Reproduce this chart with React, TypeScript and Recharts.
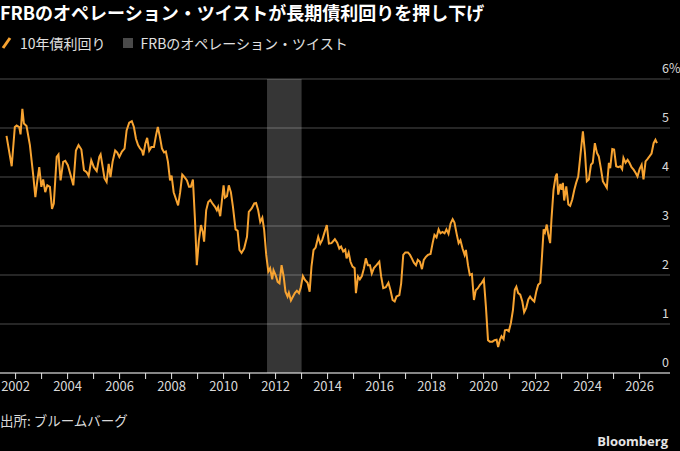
import { LineChart, Line, XAxis, YAxis, CartesianGrid, ReferenceArea } from 'recharts';

// decimal year of each observation
const years = [
  2001.65, 2001.85, 2001.97, 2002.04, 2002.14, 2002.19, 2002.26, 2002.32, 2002.42, 2002.55,
  2002.68, 2002.76, 2002.83, 2002.91, 2002.99, 2003.06, 2003.14, 2003.22, 2003.32, 2003.4,
  2003.47, 2003.58, 2003.65, 2003.73, 2003.83, 2003.91, 2004.01, 2004.12, 2004.22, 2004.32,
  2004.42, 2004.53, 2004.63, 2004.73, 2004.81, 2004.91, 2005.01, 2005.12, 2005.22, 2005.27,
  2005.35, 2005.42, 2005.5, 2005.58, 2005.65, 2005.73, 2005.83, 2005.91, 2005.99, 2006.09,
  2006.19, 2006.27, 2006.37, 2006.47, 2006.55, 2006.63, 2006.71, 2006.78, 2006.86, 2006.91,
  2006.99, 2007.06, 2007.14, 2007.22, 2007.32, 2007.4, 2007.47, 2007.55, 2007.63, 2007.71,
  2007.78, 2007.86, 2007.94, 2008.0, 2008.08, 2008.18, 2008.25, 2008.33, 2008.41, 2008.49,
  2008.59, 2008.67, 2008.74, 2008.82, 2008.9, 2008.97, 2009.05, 2009.13, 2009.2, 2009.25,
  2009.33, 2009.41, 2009.49, 2009.56, 2009.67, 2009.74, 2009.79, 2009.87, 2009.95, 2010.0,
  2010.05, 2010.13, 2010.2, 2010.28, 2010.36, 2010.46, 2010.54, 2010.61, 2010.69, 2010.79,
  2010.9, 2010.97, 2011.08, 2011.18, 2011.25, 2011.33, 2011.41, 2011.49, 2011.56, 2011.64,
  2011.72, 2011.79, 2011.87, 2011.92, 2012.0, 2012.08, 2012.15, 2012.23, 2012.31, 2012.38,
  2012.46, 2012.51, 2012.59, 2012.67, 2012.74, 2012.82, 2012.9, 2012.97, 2013.05, 2013.13,
  2013.23, 2013.31, 2013.38, 2013.46, 2013.54, 2013.64, 2013.72, 2013.79, 2013.87, 2013.97,
  2014.05, 2014.15, 2014.28, 2014.37, 2014.45, 2014.52, 2014.6, 2014.68, 2014.73, 2014.81,
  2014.88, 2014.96, 2015.04, 2015.09, 2015.17, 2015.24, 2015.32, 2015.4, 2015.47, 2015.55,
  2015.63, 2015.7, 2015.78, 2015.88, 2015.99, 2016.06, 2016.14, 2016.24, 2016.34, 2016.42,
  2016.5, 2016.58, 2016.65, 2016.76, 2016.83, 2016.91, 2016.99, 2017.09, 2017.17, 2017.24,
  2017.32, 2017.4, 2017.47, 2017.55, 2017.63, 2017.7, 2017.78, 2017.86, 2017.96, 2018.04,
  2018.11, 2018.19, 2018.27, 2018.34, 2018.42, 2018.5, 2018.57, 2018.65, 2018.73, 2018.81,
  2018.88, 2018.96, 2019.04, 2019.11, 2019.19, 2019.27, 2019.32, 2019.4, 2019.47, 2019.55,
  2019.63, 2019.7, 2019.78, 2019.86, 2019.93, 2020.01, 2020.09, 2020.17, 2020.24, 2020.34,
  2020.42, 2020.5, 2020.56, 2020.63, 2020.69, 2020.77, 2020.82, 2020.9, 2020.97, 2021.05,
  2021.13, 2021.2, 2021.26, 2021.33, 2021.41, 2021.49, 2021.56, 2021.64, 2021.72, 2021.79,
  2021.87, 2021.95, 2022.03, 2022.1, 2022.18, 2022.23, 2022.31, 2022.36, 2022.43, 2022.49,
  2022.56, 2022.61, 2022.69, 2022.77, 2022.82, 2022.87, 2022.95, 2023.0, 2023.05, 2023.1,
  2023.18, 2023.26, 2023.33, 2023.41, 2023.49, 2023.56, 2023.64, 2023.72, 2023.82, 2023.9,
  2023.97, 2024.05, 2024.13, 2024.2, 2024.28, 2024.36, 2024.43, 2024.51, 2024.59, 2024.67,
  2024.74, 2024.82, 2024.87, 2024.95, 2025.02, 2025.1, 2025.18, 2025.26, 2025.33, 2025.38,
  2025.46, 2025.54, 2025.61, 2025.69, 2025.77, 2025.85, 2025.92, 2026.0, 2026.08, 2026.15,
  2026.23, 2026.31, 2026.38, 2026.46, 2026.54, 2026.61, 2026.67,
];

// 10年債利回り (%)
const yields = [
  4.84, 4.22, 5.02, 5.05, 5.02, 4.87, 5.39, 5.09, 5.04, 4.65,
  4.03, 3.59, 3.9, 4.2, 3.8, 3.95, 3.69, 3.83, 3.8, 3.35,
  3.46, 4.41, 4.46, 3.93, 4.31, 4.33, 4.24, 4.03, 3.83, 4.54,
  4.65, 4.56, 4.14, 4.1, 4.02, 4.34, 4.2, 4.12, 4.41, 4.46,
  4.2, 3.97, 3.9, 4.27, 4.0, 4.31, 4.54, 4.5, 4.41, 4.52,
  4.58, 4.95, 5.11, 5.14, 5.02, 4.78, 4.65, 4.59, 4.54, 4.44,
  4.68, 4.8, 4.54, 4.61, 4.61, 4.85, 5.02, 4.82, 4.58, 4.5,
  4.52, 4.31, 3.93, 4.03, 3.69, 3.53, 3.42, 3.69, 4.05, 4.0,
  3.93, 3.8, 3.8, 3.95, 3.12, 2.2, 2.71, 3.02, 2.88, 2.68,
  3.32, 3.49, 3.53, 3.47, 3.39, 3.32, 3.39, 3.2, 3.59, 3.83,
  3.58, 3.61, 3.83, 3.69, 3.39, 2.93, 2.9, 2.51, 2.45, 2.54,
  2.78, 3.29, 3.36, 3.46, 3.47, 3.32, 3.08, 3.17, 2.92, 2.41,
  2.07, 2.14, 1.91, 2.1, 2.0, 1.86, 1.83, 2.2, 1.97, 1.66,
  1.56, 1.64, 1.48, 1.56, 1.63, 1.68, 1.63, 1.75, 1.98, 1.9,
  1.84, 1.66, 2.17, 2.51, 2.56, 2.78, 2.64, 2.71, 2.85, 3.02,
  2.64, 2.65, 2.73, 2.66, 2.54, 2.58, 2.48, 2.52, 2.34, 2.46,
  2.27, 2.17, 2.14, 1.63, 1.97, 1.91, 1.98, 2.14, 2.34, 2.2,
  2.2, 2.03, 2.14, 2.2, 2.27, 1.97, 1.73, 1.75, 1.84, 1.69,
  1.49, 1.46, 1.56, 1.59, 1.83, 2.41, 2.46, 2.46, 2.41, 2.34,
  2.25, 2.2, 2.31, 2.27, 2.12, 2.31, 2.37, 2.41, 2.43, 2.65,
  2.82, 2.77, 2.93, 2.85, 2.88, 2.85, 2.93, 2.84, 3.05, 3.14,
  3.07, 2.85, 2.65, 2.71, 2.54, 2.41, 2.51, 2.2, 2.0, 2.02,
  1.49, 1.69, 1.73, 1.8, 1.84, 1.91, 1.35, 0.67, 0.64, 0.64,
  0.67, 0.68, 0.53, 0.68, 0.75, 0.69, 0.87, 0.88, 0.85, 1.02,
  1.29, 1.7, 1.76, 1.63, 1.6, 1.46, 1.24, 1.33, 1.5, 1.56,
  1.5, 1.46, 1.67, 1.8, 1.84, 2.24, 2.93, 2.87, 3.03, 2.82,
  2.65, 3.13, 3.74, 4.01, 4.07, 3.64, 3.86, 3.74, 3.88, 3.52,
  3.81, 3.44, 3.41, 3.54, 3.74, 3.88, 4.01, 4.42, 4.93, 4.49,
  3.91, 3.95, 4.25, 4.29, 4.69, 4.49, 4.42, 4.18, 3.91, 3.84,
  3.78, 4.29, 4.18, 4.57, 4.56, 4.22, 4.2, 4.22, 4.16, 4.39,
  4.29, 4.35, 4.29, 4.2, 4.15, 4.08, 4.01, 4.16, 4.25, 3.95,
  4.32, 4.37, 4.42, 4.48, 4.69, 4.76, 4.69,
];

const yearTicks = [
  2002, 2003, 2004, 2005, 2006, 2007, 2008, 2009, 2010, 2011, 2012, 2013, 2014,
  2015, 2016, 2017, 2018, 2019, 2020, 2021, 2022, 2023, 2024, 2025, 2026,
];
const yieldTicks = [0, 1, 2, 3, 4, 5, 6];

// FRBのオペレーション・ツイスト期間
const twistStart = 2011.67;
const twistEnd = 2013.0;

const data = years.map((year, i) => ({ year, value: yields[i] }));

const FONT = '"Noto Sans CJK JP", "Noto Sans", sans-serif';

function YearTick(props: any) {
  const { x, y, payload } = props;
  if (payload.value % 2 !== 0) return null;
  return (
    <text x={x} y={y + 10} textAnchor="middle" fill="#d9d9d9" fontSize={13} fontFamily={FONT}>
      {payload.value}
    </text>
  );
}

function YieldTick(props: any) {
  const { x, y, payload } = props;
  return (
    <text x={x - 16} y={y - 6} textAnchor="start" fill="#d9d9d9" fontSize={12.5} fontFamily={FONT}>
      {payload.value === 6 ? '6%' : payload.value}
    </text>
  );
}

export default function App() {
  return (
    <div
      style={{
        position: 'absolute',
        left: 0,
        top: 0,
        width: 680,
        height: 451,
        background: '#000',
        fontFamily: FONT,
        overflow: 'hidden',
      }}
    >
      <div style={{ position: 'absolute', left: 0, top: 1, color: '#fff', fontSize: 18, fontWeight: 700, lineHeight: '22px', whiteSpace: 'nowrap' }}>
        FRBのオペレーション・ツイストが長期債利回りを押し下げ
      </div>

      <div style={{ position: 'absolute', left: 0, top: 34, height: 18, display: 'flex', alignItems: 'center', color: '#e0e0e0', fontSize: 14, whiteSpace: 'nowrap' }}>
        <svg width={12} height={14} style={{ marginLeft: 1 }}>
          <line x1={2} y1={12} x2={9} y2={2} stroke="#f7a331" strokeWidth={3} />
        </svg>
        <span style={{ marginLeft: 7 }}>10年債利回り</span>
        <span style={{ display: 'inline-block', width: 10, height: 10, background: '#4a4a4a', marginLeft: 17 }} />
        <span style={{ marginLeft: 8 }}>FRBのオペレーション・ツイスト</span>
      </div>

      <div style={{ position: 'absolute', left: 0, top: 0 }}>
        <LineChart width={680} height={451} data={data} margin={{ top: 79, right: 0, bottom: 48, left: 0 }}>
          <ReferenceArea x1={twistStart} x2={twistEnd} fill="#ffffff" fillOpacity={0.21} stroke="none" ifOverflow="hidden" />
          <CartesianGrid vertical={false} stroke="#4d4d4d" strokeWidth={1} />
          <XAxis
            dataKey="year"
            type="number"
            domain={[2001.4, 2027.17]}
            ticks={yearTicks}
            interval={0}
            allowDataOverflow
            height={30}
            stroke="#e6e6e6"
            tickSize={6}
            tick={<YearTick />}
          />
          <YAxis
            orientation="right"
            domain={[0, 6]}
            ticks={yieldTicks}
            interval={0}
            width={10}
            axisLine={false}
            tickLine={false}
            tick={<YieldTick />}
          />
          <Line
            type="linear"
            dataKey="value"
            stroke="#f7a331"
            strokeWidth={2}
            dot={false}
            isAnimationActive={false}
          />
        </LineChart>
      </div>

      <div style={{ position: 'absolute', left: 0, top: 411, color: '#d9d9d9', fontSize: 13.5, lineHeight: '18px', whiteSpace: 'nowrap' }}>
        出所: ブルームバーグ
      </div>
      <div style={{ position: 'absolute', right: 12, top: 432, color: '#e6e6e6', fontSize: 13, fontWeight: 700, lineHeight: '18px', fontFamily: '"Open Sans", "Noto Sans", sans-serif' }}>
        Bloomberg
      </div>
    </div>
  );
}
